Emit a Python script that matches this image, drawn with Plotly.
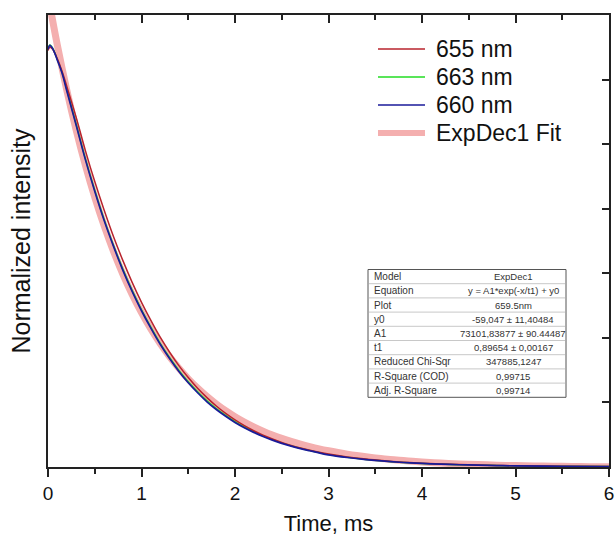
import plotly.graph_objects as go

# ---------------- data ----------------
time_ms = [0, 0.02, 0.05, 0.1, 0.15, 0.2,
           0.3, 0.4, 0.5, 0.6, 0.7, 0.8, 0.9, 1.0, 1.1, 1.2, 1.3, 1.4, 1.5, 1.6,
           1.7, 1.8, 1.9, 2.0, 2.1, 2.2, 2.3, 2.4, 2.5, 2.6, 2.7, 2.8, 2.9, 3.0,
           3.2, 3.4, 3.6, 3.8, 4.0, 4.2, 4.4, 4.6, 4.8, 5.0, 5.5, 6.0]

i655 = [64500, 65000, 64700, 63200, 61300, 59000,
        54200, 49000, 44200, 39800, 35700, 32000, 28600, 25500, 22700, 20100, 17800, 15700, 13850, 12200,
        10750, 9450, 8300, 7300, 6400, 5620, 4930, 4330, 3800, 3340, 2930, 2580, 2270, 2000,
        1560, 1220, 960, 750, 590, 470, 380, 300, 240, 190, 120, 80]

i663 = [64750, 65350, 64850, 63100, 61150, 58500,
        53150, 47750, 42850, 38350, 34350, 30650, 27350, 24350, 21650, 19150, 16950, 14950, 13200, 11650,
        10250, 9050, 7990, 7030, 6200, 5470, 4820, 4250, 3740, 3300, 2910, 2560, 2230, 1930,
        1500, 1170, 915, 712, 560, 448, 357, 285, 225, 179, 113, 72]

i660 = [64700, 65300, 64800, 63000, 61000, 58300,
        53000, 47600, 42700, 38200, 34200, 30500, 27200, 24200, 21500, 19000, 16800, 14800, 13050, 11500,
        10100, 8900, 7850, 6900, 6080, 5360, 4720, 4160, 3660, 3230, 2850, 2510, 2180, 1880,
        1470, 1150, 900, 700, 550, 440, 350, 280, 220, 175, 110, 70]

fit_t = [0.0, 0.1, 0.2, 0.3, 0.4, 0.5, 0.6, 0.7, 0.8, 0.9, 1.0, 1.1, 1.2, 1.3, 1.4, 1.5, 1.6, 1.7, 1.8, 1.9,
         2.0, 2.1, 2.2, 2.3, 2.4, 2.5, 2.6, 2.7, 2.8, 2.9, 3.0, 3.1, 3.2, 3.3, 3.4, 3.5, 3.6, 3.7, 3.8, 3.9,
         4.0, 4.2, 4.4, 4.6, 4.8, 5.0, 5.2, 5.4, 5.6, 5.8, 6.0]
fit_y = [73042, 65326, 58425, 52252, 46731, 41792, 37375, 33424, 29890, 26729, 23902, 21373, 19111, 17088,
         15278, 13659, 12211, 10916, 9758, 8722, 7795, 6966, 6225, 5562, 4968, 4438, 3963, 3539, 3159, 2819,
         2516, 2244, 2001, 1783, 1589, 1415, 1259, 1120, 996, 884, 785, 616, 481, 373, 287, 218, 162, 118,
         83, 54, 32]

series_names = ["655 nm", "663 nm", "660 nm", "ExpDec1 Fit"]

table_labels = ["Model", "Equation", "Plot", "y0", "A1", "t1", "Reduced Chi-Sqr", "R-Square (COD)", "Adj. R-Square"]
table_values = ["ExpDec1", "y = A1*exp(-x/t1) + y0", "659.5nm", "-59,047 ± 11,40484",
                "73101,83877 ± 90.44487", "0,89654 ± 0,00167", "347885,1247", "0,99715", "0,99714"]

x_ticks = [0, 1, 2, 3, 4, 5, 6]

# ---------------- figure ----------------
FONT = "Liberation Sans, Arial, sans-serif"
W, H = 615, 537
ML, MR, MT, MB = 48, 6, 15, 70
PW, PH = W - ML - MR, H - MT - MB


def px2paper_x(px):
    return (px - ML) / PW


def px2paper_y(py):
    return (H - MB - py) / PH


colors = {"655 nm": "#B8232C", "663 nm": "#22DD22", "660 nm": "#1A1A9A", "ExpDec1 Fit": "#F4AFAF"}
widths = {"655 nm": 1.5, "663 nm": 1.5, "660 nm": 1.5, "ExpDec1 Fit": 7}

fig = go.Figure()

fig.add_trace(go.Scatter(x=fit_t, y=fit_y, mode="lines", name="ExpDec1 Fit",
                         line=dict(color=colors["ExpDec1 Fit"], width=7, shape="spline")))
fig.add_trace(go.Scatter(x=time_ms, y=i663, mode="lines", name="663 nm",
                         line=dict(color=colors["663 nm"], width=1.5, shape="spline")))
fig.add_trace(go.Scatter(x=time_ms, y=i655, mode="lines", name="655 nm",
                         line=dict(color=colors["655 nm"], width=1.5, shape="spline")))
fig.add_trace(go.Scatter(x=time_ms, y=i660, mode="lines", name="660 nm",
                         line=dict(color=colors["660 nm"], width=1.7, shape="spline")))
# helper trace so the mirrored axes are drawn
fig.add_trace(go.Scatter(x=[None], y=[None], xaxis="x2", yaxis="y2", showlegend=False, hoverinfo="skip"))

axcol = "#222222"

shapes = []
annotations = []

# legend (drawn manually to match spacing)
leg_y = [49, 77, 105, 133]
for name, yc in zip(series_names, leg_y):
    w = 6 if name == "ExpDec1 Fit" else widths[name]
    shapes.append(dict(type="line", xref="paper", yref="paper",
                       x0=px2paper_x(378), x1=px2paper_x(425),
                       y0=px2paper_y(yc), y1=px2paper_y(yc),
                       line=dict(color=colors[name], width=w)))
    annotations.append(dict(x=px2paper_x(434), y=px2paper_y(yc), xref="paper", yref="paper",
                            text=name, showarrow=False, xanchor="left", yanchor="middle",
                            font=dict(family=FONT, size=23, color="#111111")))

# table shapes and text
row_h = 14.2
top = 269.5
left_px, right_px = 368, 566
shapes.append(dict(type="rect", xref="paper", yref="paper",
                   x0=px2paper_x(left_px), x1=px2paper_x(right_px),
                   y0=px2paper_y(top), y1=px2paper_y(top + row_h * len(table_labels)),
                   line=dict(color="#555555", width=1), fillcolor="white", layer="above"))
for i in range(1, len(table_labels)):
    y = top + i * row_h
    shapes.append(dict(type="line", xref="paper", yref="paper",
                       x0=px2paper_x(left_px + 1), x1=px2paper_x(right_px - 1),
                       y0=px2paper_y(y), y1=px2paper_y(y),
                       line=dict(color="#C8C8C8", width=1), layer="above"))
for i, (lab, val) in enumerate(zip(table_labels, table_values)):
    yc = top + (i + 0.5) * row_h
    annotations.append(dict(x=px2paper_x(left_px + 4), y=px2paper_y(yc), xref="paper", yref="paper",
                            text=lab, showarrow=False, xanchor="left", yanchor="middle",
                            font=dict(family=FONT, size=10, color="#333333")))
    annotations.append(dict(x=px2paper_x(513), y=px2paper_y(yc), xref="paper", yref="paper",
                            text=val, showarrow=False, xanchor="center", yanchor="middle",
                            font=dict(family=FONT, size=9.5, color="#333333")))

fig.update_layout(
    width=W, height=H,
    margin=dict(l=ML, r=MR, t=MT, b=MB),
    paper_bgcolor="white", plot_bgcolor="white",
    font=dict(family=FONT, color="#111111"),
    showlegend=False,
    xaxis=dict(range=[0, 6], tickvals=x_ticks, ticks="outside", ticklen=8, tickwidth=1.5,
               tickcolor=axcol, showline=True, linewidth=1.5, linecolor=axcol, automargin=False,
               showgrid=False, zeroline=False, tickfont=dict(size=19, family=FONT), ticklabelstandoff=0,
               minor=dict(dtick=0.5, tick0=0, ticks="outside", ticklen=5, tickwidth=1.5, tickcolor=axcol),
               title=dict(text="Time, ms", font=dict(size=22, family=FONT), standoff=13)),
    xaxis2=dict(range=[0, 6], overlaying="x", side="top", anchor="y", tickvals=x_ticks, automargin=False,
                ticks="inside", ticklen=8, tickwidth=1.5, tickcolor=axcol, showline=True,
                linewidth=1.5, linecolor=axcol, showgrid=False, zeroline=False, showticklabels=False,
                minor=dict(dtick=0.5, tick0=0, ticks="inside", ticklen=5, tickwidth=1.5, tickcolor=axcol)),
    yaxis=dict(range=[0, 70000], ticks="", showticklabels=False, showline=True, linewidth=1.5,
               linecolor=axcol, showgrid=False, zeroline=False, automargin=False,
               title=dict(text="Normalized intensity", font=dict(size=25, family=FONT), standoff=9)),
    yaxis2=dict(range=[0, 70000], overlaying="y", side="right", anchor="x", dtick=10000, tick0=0,
                ticks="inside", ticklen=7, tickwidth=1.5, tickcolor=axcol, showline=True, linewidth=1.5,
                linecolor=axcol, showgrid=False, zeroline=False, showticklabels=False, automargin=False),
    shapes=shapes,
    annotations=annotations,
)

fig.write_html("out.html", config={"displayModeBar": False},
               post_script="document.body.style.margin='0';document.body.style.padding='0';")
